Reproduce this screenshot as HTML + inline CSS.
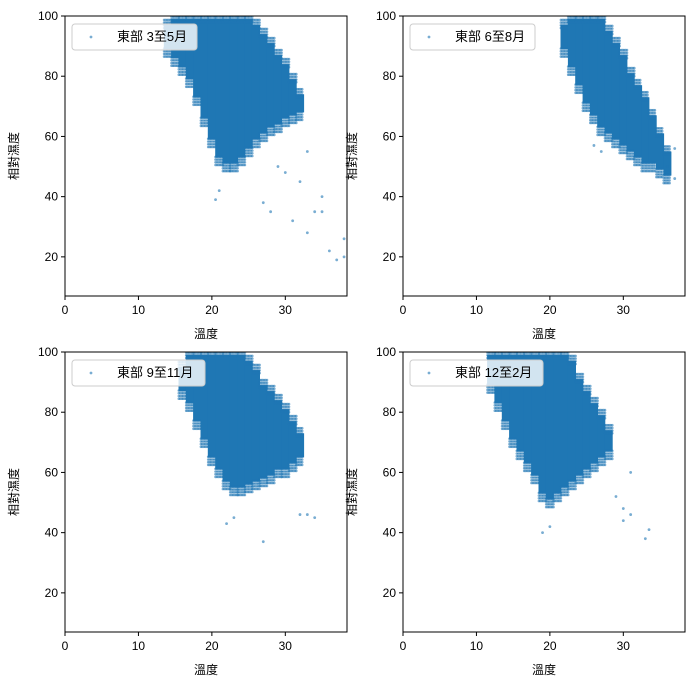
<!DOCTYPE html>
<html><head><meta charset="utf-8"><style>
body{margin:0;background:#fff;width:695px;height:689px;overflow:hidden}
svg text{font-family:"Liberation Sans","Noto Sans CJK TC",sans-serif}
</style></head><body>
<svg id="fig" width="695" height="689"></svg>
<script>
// Data: per temperature bin [temp, humidity low, humidity high], plus outlier points
const labels = ["東部 3至5月","東部 6至8月","東部 9至11月","東部 12至2月"];
const bins0 = [[14,88,98],[15,85,100],[16,82,100],[17,78,100],[18,72,100],[19,65,100],[20,58,100],[21,52,100],[22,50,100],[23,50,100],[24,52,100],[25,55,100],[26,58,98],[27,60,95],[28,62,92],[29,63,88],[30,65,85],[31,66,80],[32,67,75]];
const bins1 = [[22,88,98],[23,82,100],[24,76,100],[25,70,100],[26,66,100],[27,62,100],[28,60,96],[29,58,92],[30,56,88],[31,54,82],[32,52,78],[33,50,74],[34,50,68],[35,48,62],[36,46,56]];
const bins2 = [[16,86,96],[17,82,100],[18,76,100],[19,70,100],[20,64,100],[21,60,100],[22,56,100],[23,54,100],[24,54,100],[25,55,98],[26,56,95],[27,57,90],[28,58,88],[29,60,85],[30,60,82],[31,62,78],[32,64,74]];
const bins3 = [[12,88,100],[13,82,100],[14,76,100],[15,70,100],[16,66,100],[17,62,100],[18,58,100],[19,52,100],[20,50,100],[21,52,100],[22,54,100],[23,56,98],[24,58,92],[25,60,88],[26,62,84],[27,64,80],[28,66,75]];
const out0 = [[21,42],[20.5,39],[27,38],[28,35],[31,32],[33,28],[34,35],[35,40],[36,22],[37,19],[38,26],[38,20],[32,45],[30,48],[29,50],[33,55],[35,35]];
const out1 = [[26,57],[27,55],[36,50],[37,46],[37,56]];
const out2 = [[22,43],[27,37],[33,46],[34,45],[32,46],[23,45]];
const out3 = [[19,40],[20,42],[30,44],[31,46],[31,60],[33,38],[33.5,41],[29,52],[30,48]];
const xTicks = [0,10,20,30];
const yTicks = [20,40,60,80,100];

const NS="http://www.w3.org/2000/svg";
const fig=document.getElementById('fig');
function mk(tag,attrs,parent){const e=document.createElementNS(NS,tag);for(const k in attrs)e.setAttribute(k,attrs[k]);parent.appendChild(e);return e;}
const panels=[[65,16,bins0,out0],[403,16,bins1,out1],[65,352,bins2,out2],[403,352,bins3,out3]];
panels.forEach((p,i)=>{
  const [x0,y0,bins,outs]=p;const W=282,H=280;
  const xs=v=>x0+(v-0)/38.4*W;
  const ys=v=>y0+(100-v)/(100-7)*H;
  const g=mk('g',{},fig);
  
  
  const clip=mk('clipPath',{id:'c'+i},g);mk('rect',{x:x0,y:y0,width:W,height:H},clip);
  const pts=mk('g',{'clip-path':'url(#c'+i+')',fill:'#1f77b4'},g);
  
  
  bins.forEach(b=>{
    // solid core of the bin plus lighter edge dots
    const X1=xs(b[0]-0.55),X2=xs(b[0]+0.55),Y1=ys(b[2]),Y2=ys(b[1]);
    mk('rect',{x:X1.toFixed(1),y:(Y1+3).toFixed(1),width:(X2-X1).toFixed(1),height:Math.max(0,Y2-Y1-6).toFixed(1)},pts);
    for(let t=b[0]-0.5;t<b[0]+0.5;t+=0.2){
      for(let h=b[1]-1.5;h<=b[1]+2;h+=0.9){mk('circle',{cx:xs(t).toFixed(1),cy:ys(h).toFixed(1),r:1.3,'fill-opacity':0.6},pts);}
      for(let h=b[2]-2;h<=b[2]+1.5;h+=0.9){mk('circle',{cx:xs(t).toFixed(1),cy:ys(h).toFixed(1),r:1.3,'fill-opacity':0.6},pts);}
    }
  });
  outs.forEach(o=>{const c=mk('circle',{cx:xs(o[0]),cy:ys(o[1]),r:1.4,'fill-opacity':0.6},pts);
    
    });
  mk('rect',{x:x0,y:y0,width:W,height:H,fill:'none',stroke:'#000','stroke-width':1},g);
  xTicks.forEach(t=>{const X=xs(t);mk('line',{x1:X,x2:X,y1:y0+H,y2:y0+H+4,stroke:'#000'},g);
    const tx=mk('text',{x:X,y:y0+H+18,'font-size':12,'text-anchor':'middle'},g);tx.textContent=t;
    });
  yTicks.forEach(t=>{const Y=ys(t);mk('line',{x1:x0-4,x2:x0,y1:Y,y2:Y,stroke:'#000'},g);
    const tx=mk('text',{x:x0-7,y:Y+4,'font-size':12,'text-anchor':'end'},g);tx.textContent=t;
    });
  const xl=mk('text',{x:x0+W/2,y:y0+H+42,'font-size':12,'text-anchor':'middle'},g);xl.textContent='溫度';
  
  const yl=mk('text',{x:0,y:0,'font-size':12,'text-anchor':'middle',transform:`translate(${x0-47},${y0+H/2}) rotate(-90)`},g);yl.textContent='相對濕度';
  
  const lg=mk('g',{},g);
  
  
  mk('rect',{x:x0+7,y:y0+8,width:125+(labels[i].length>7?8:0),height:26,rx:3,fill:'#fff','fill-opacity':0.8,stroke:'#ccc'},lg);
  mk('circle',{cx:x0+26,cy:y0+21,r:1.4,fill:'#1f77b4','fill-opacity':0.6},lg);
  const lt=mk('text',{x:x0+52,y:y0+25,'font-size':13},lg);lt.textContent=labels[i];
  
});
</script>
</body></html>
